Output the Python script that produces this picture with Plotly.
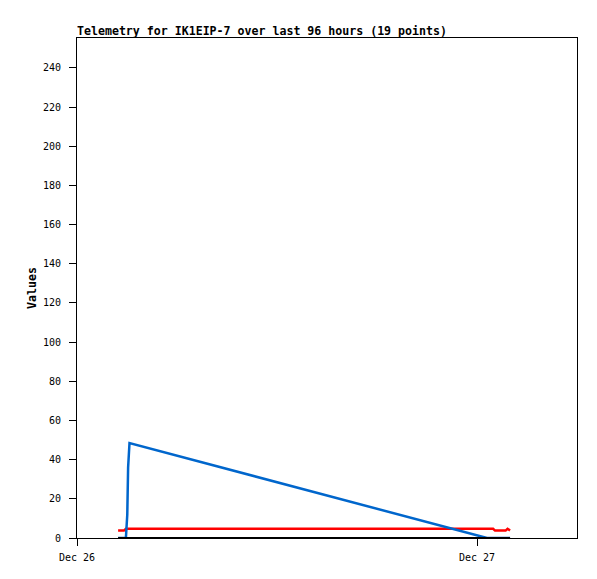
import plotly.graph_objects as go

# sample times (19 points)
times = [
    "2023-12-26 02:28", "2023-12-26 02:49", "2023-12-26 02:56", "2023-12-26 03:01",
    "2023-12-26 03:04", "2023-12-26 03:09", "2023-12-27 00:29", "2023-12-27 00:36",
    "2023-12-27 00:43", "2023-12-27 00:50", "2023-12-27 00:58", "2023-12-27 01:05",
    "2023-12-27 01:12", "2023-12-27 01:19", "2023-12-27 01:26", "2023-12-27 01:34",
    "2023-12-27 01:43", "2023-12-27 01:50", "2023-12-27 01:59",
]
red_values = [3.8, 3.8, 4.7, 4.7, 4.7, 4.7, 4.7, 4.7, 4.7, 4.7, 4.7, 3.8, 3.8, 3.8,
              3.8, 3.8, 3.8, 4.7, 3.8]
blue_values = [0, 0, 0, 12, 36, 48.5, 0, 0, 0, 0, 0, 0, 0, 0, 0, 0, 0, 0, 0]
black_values = [0] * 19

y_ticks = list(range(0, 241, 20))

mono = "DejaVu Sans Mono"

fig = go.Figure()
fig.add_trace(go.Scatter(x=times, y=red_values, mode="lines",
                         line=dict(color="#FF0000", width=2.5)))
fig.add_trace(go.Scatter(x=times, y=blue_values, mode="lines",
                         line=dict(color="#0066CC", width=2.5)))
fig.add_trace(go.Scatter(x=times, y=black_values, mode="lines",
                         line=dict(color="#000000", width=2)))

# page body has an 8px margin, so the figure is a bit smaller than the window
fig.update_layout(
    width=589,
    height=571,
    margin=dict(l=69, r=20, t=30, b=41),
    paper_bgcolor="#FFFFFF",
    plot_bgcolor="#FFFFFF",
    showlegend=False,
    font=dict(family=mono, size=10, color="#000000"),
    title=dict(
        text="<b>Telemetry for IK1EIP-7 over last 96 hours (19 points)</b>",
        x=0, xref="paper", xanchor="left",
        y=1 - 23 / 571, yref="container", yanchor="middle",
        font=dict(family=mono, size=11.6, color="#000000"),
    ),
    annotations=[dict(
        text="<b>Values</b>", textangle=-90,
        x=-45 / 500, xref="paper", xanchor="center",
        y=0.5, yref="paper", yanchor="middle",
        showarrow=False, font=dict(family=mono, size=11.6, color="#000000"),
    )],
)
fig.update_xaxes(
    type="date",
    range=["2023-12-26 00:00", "2023-12-27 06:00"],
    tickmode="linear", tick0="2023-12-26", dtick=86400000,
    tickformat="%b %d",
    ticks="outside", ticklen=7, tickcolor="#000000", tickwidth=1,
    ticklabelstandoff=3,
    showline=True, linecolor="#000000", linewidth=1, mirror=True,
    showgrid=False, zeroline=False,
)
fig.update_yaxes(
    range=[0, 255.3],
    tickmode="array", tickvals=y_ticks,
    ticks="outside", ticklen=7, tickcolor="#000000", tickwidth=1,
    ticklabelstandoff=6,
    showline=True, linecolor="#000000", linewidth=1, mirror=True,
    showgrid=False, zeroline=False,
)

fig.write_html("out.html")
